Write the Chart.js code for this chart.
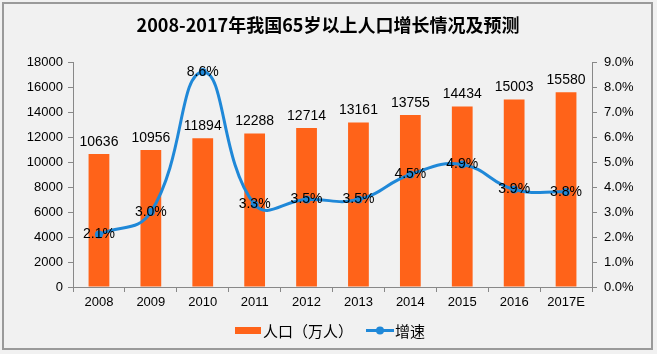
<!DOCTYPE html>
<html>
<head>
<meta charset="utf-8">
<script src="https://cdn.jsdelivr.net/npm/chart.js@4/dist/chart.umd.min.js"></script>
<style>
  html, body { margin: 0; padding: 0; background: #f1f1f1; }
  #wrap { width: 657px; height: 354px; position: relative; }
</style>
</head>
<body>
<div id="wrap"><canvas id="myChart"></canvas></div>
<script>
// data
const years = ["2008", "2009", "2010", "2011", "2012", "2013", "2014", "2015", "2016", "2017E"];
const population = [10636, 10956, 11894, 12288, 12714, 13161, 13755, 14434, 15003, 15580]; // 万人
const growth = [2.1, 3.0, 8.6, 3.3, 3.5, 3.5, 4.5, 4.9, 3.9, 3.8]; // %
const titleText = "2008-2017年我国65岁以上人口增长情况及预测";
const barLabel = "人口（万人）";
const lineLabel = "增速";

const orange = "#ff6319";
const blue = "#1f88d8";
const numFont = "'Liberation Sans', 'Noto Sans CJK SC', sans-serif";
const cjkFont = "'Noto Sans CJK SC', sans-serif";

// background, frame, title and legend
const decorPlugin = {
    id: "decor",
    beforeDraw(chart) {
        const ctx = chart.ctx;
        ctx.save();
        ctx.fillStyle = "#f1f1f1";
        ctx.fillRect(0, 0, chart.width, chart.height);
        ctx.strokeStyle = "#9a9a9a";
        ctx.lineWidth = 2;
        ctx.strokeRect(3, 3, 649, 346);
        ctx.restore();
    },
    afterDraw(chart) {
        const ctx = chart.ctx;
        ctx.save();
        ctx.fillStyle = "#000";
        ctx.textBaseline = "middle";
        ctx.textAlign = "center";
        ctx.font = "bold 18px " + cjkFont;
        ctx.fillText(titleText, 328, 25);

        // legend
        ctx.font = "15px " + cjkFont;
        ctx.textAlign = "left";
        ctx.fillStyle = orange;
        ctx.fillRect(235, 327, 26, 7);
        ctx.fillStyle = "#000";
        ctx.fillText(barLabel, 263, 331);
        ctx.strokeStyle = blue;
        ctx.lineWidth = 3;
        ctx.beginPath();
        ctx.moveTo(366, 330.5);
        ctx.lineTo(394, 330.5);
        ctx.stroke();
        ctx.fillStyle = blue;
        ctx.beginPath();
        ctx.arc(380, 330.5, 4, 0, Math.PI * 2);
        ctx.fill();
        ctx.fillStyle = "#000";
        ctx.fillText(lineLabel, 395, 331);
        ctx.restore();
    }
};

// value labels on bars and points
const labelPlugin = {
    id: "valueLabels",
    afterDatasetsDraw(chart) {
        const ctx = chart.ctx;
        ctx.save();
        ctx.fillStyle = "#000";
        ctx.font = "14px " + numFont;
        ctx.textAlign = "center";

        const barMeta = chart.getDatasetMeta(0);
        ctx.textBaseline = "bottom";
        barMeta.data.forEach((bar, i) => {
            ctx.fillText(String(population[i]), bar.x, bar.y - 5);
        });

        const lineMeta = chart.getDatasetMeta(1);
        ctx.textBaseline = "middle";
        lineMeta.data.forEach((pt, i) => {
            ctx.fillText(growth[i].toFixed(1) + "%", pt.x, pt.y);
        });
        ctx.restore();
    }
};

new Chart(document.getElementById("myChart"), {
    type: "bar",
    data: {
        labels: years,
        datasets: [
            {
                type: "bar",
                label: barLabel,
                data: population,
                backgroundColor: orange,
                yAxisID: "y",
                barPercentage: 0.8,
                categoryPercentage: 0.5,
                order: 2
            },
            {
                type: "line",
                label: lineLabel,
                data: growth,
                borderColor: blue,
                backgroundColor: blue,
                borderWidth: 3,
                pointRadius: 4,
                pointBackgroundColor: blue,
                pointBorderWidth: 0,
                tension: 0.45,
                yAxisID: "y1",
                order: 1
            }
        ]
    },
    options: {
        responsive: true,
        maintainAspectRatio: false,
        animation: false,
        layout: { padding: { top: 62, left: 0, right: 0, bottom: 0 } },
        plugins: {
            legend: { display: false },
            title: { display: false },
            tooltip: { enabled: false }
        },
        scales: {
            x: {
                grid: { display: true, drawOnChartArea: false, drawTicks: true, tickLength: 5, color: "#888", offset: true },
                border: { display: true, color: "#888" },
                ticks: { color: "#000", font: { size: 13, family: numFont }, padding: 3, maxRotation: 0 },
                afterFit(scale) { scale.height = 67; }
            },
            y: {
                position: "left",
                min: 0,
                max: 18000,
                ticks: {
                    stepSize: 2000,
                    color: "#000",
                    font: { size: 13, family: numFont },
                    padding: 5,
                    callback: (v) => String(v)
                },
                grid: { display: true, drawOnChartArea: false, drawTicks: true, tickLength: 5, color: "#888" },
                border: { display: true, color: "#888" },
                afterFit(scale) { scale.width = 73; }
            },
            y1: {
                position: "right",
                min: 0,
                max: 9,
                ticks: {
                    stepSize: 1,
                    color: "#000",
                    font: { size: 13, family: numFont },
                    padding: 7,
                    callback: (v) => v.toFixed(1) + "%"
                },
                grid: { display: true, drawOnChartArea: false, drawTicks: true, tickLength: 5, color: "#888" },
                border: { display: true, color: "#888" },
                afterFit(scale) { scale.width = 65; }
            }
        }
    },
    plugins: [decorPlugin, labelPlugin]
});
</script>
</body>
</html>
